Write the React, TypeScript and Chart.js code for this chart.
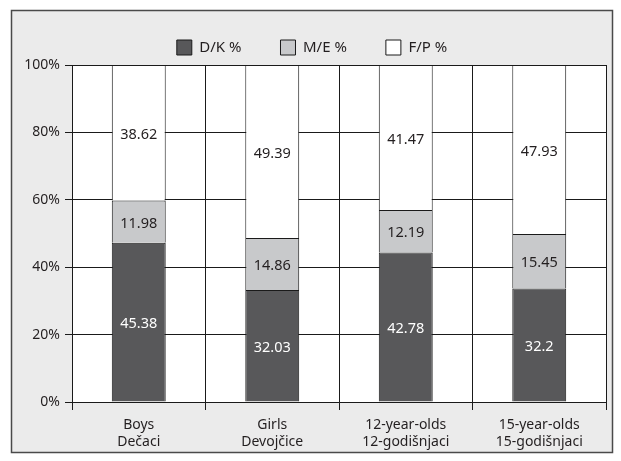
import React, { useEffect, useRef } from "react";
import { Chart, registerables } from "chart.js";

Chart.register(...registerables);

const categories: string[][] = [
  ["Boys", "Dečaci"],
  ["Girls", "Devojčice"],
  ["12-year-olds", "12-godišnjaci"],
  ["15-year-olds", "15-godišnjaci"],
];
const seriesNames = ["D/K %", "M/E %", "F/P %"];
const dkValues = [45.38, 32.03, 42.78, 32.2];
const meValues = [11.98, 14.86, 12.19, 15.45];
const fpValues = [38.62, 49.39, 41.47, 47.93];
const yTicks = [0, 20, 40, 60, 80, 100];

const TEXT = "#231f20";
const FONT = "'Noto Sans', sans-serif";

export default function App() {
  const ref = useRef<HTMLCanvasElement | null>(null);

  useEffect(() => {
    document.body.style.margin = "0";
    const canvas = ref.current;
    if (!canvas) return;

    const raw = [dkValues, meValues, fpValues];
    const totals = dkValues.map((_, i) => dkValues[i] + meValues[i] + fpValues[i]);
    const norm = raw.map((arr) => arr.map((v, i) => (v / totals[i]) * 100));
    const colors = ["#58585a", "#c8c9cb", "#ffffff"];
    const labelColors = ["#ffffff", TEXT, TEXT];

    const bgPlugin = {
      id: "bg",
      beforeDraw(chart: any) {
        const { ctx, chartArea } = chart;
        ctx.save();
        ctx.fillStyle = "#ffffff";
        ctx.fillRect(0, 0, chart.width, chart.height);
        ctx.fillStyle = "#ebebeb";
        ctx.fillRect(11, 10, 602, 443);
        ctx.strokeStyle = "#4a4a4a";
        ctx.lineWidth = 1.5;
        ctx.strokeRect(11.5, 10.5, 601, 442);
        ctx.fillStyle = "#ffffff";
        ctx.fillRect(chartArea.left, chartArea.top, chartArea.right - chartArea.left, chartArea.bottom - chartArea.top);
        ctx.restore();
      },
    };

    const labelPlugin = {
      id: "segLabels",
      afterDatasetsDraw(chart: any) {
        const { ctx } = chart;
        ctx.save();
        ctx.font = `14.5px ${FONT}`;
        ctx.textAlign = "center";
        ctx.textBaseline = "middle";
        raw.forEach((arr, di) => {
          const meta = chart.getDatasetMeta(di);
          meta.data.forEach((el: any, i: number) => {
            const p = el.getProps(["x", "y", "base"], true);
            ctx.fillStyle = labelColors[di];
            ctx.fillText(String(arr[i]), p.x, (p.y + p.base) / 2 + 2);
          });
        });
        ctx.restore();
      },
    };

    const chart = new Chart(canvas, {
      type: "bar",
      data: {
        labels: categories,
        datasets: seriesNames.map((name, di) => ({
          label: name,
          data: norm[di],
          backgroundColor: colors[di],
          borderColor: "#1a1a1a",
          borderWidth: 1,
          barPercentage: 0.404,
          categoryPercentage: 1,
        })),
      },
      options: {
        responsive: false,
        animation: false,
        devicePixelRatio: 1,
        layout: { padding: { top: 1, right: 15, left: 18, bottom: 0 } },
        plugins: {
          legend: {
            display: true,
            position: "top",
            labels: {
              boxWidth: 15,
              boxHeight: 15,
              padding: 39,
              color: TEXT,
              font: { family: FONT, size: 15 },
            },
          },
          tooltip: { enabled: false },
        },
        scales: {
          x: {
            stacked: true,
            grid: { color: "#1a1a1a", lineWidth: 1, offset: true, tickLength: 8, drawTicks: true },
            border: { color: "#1a1a1a" },
            ticks: { color: TEXT, font: { family: FONT, size: 14, lineHeight: 1.25 }, padding: 6, maxRotation: 0 },
            afterFit(scale: any) {
              scale.height = 59;
            },
          },
          y: {
            stacked: true,
            min: 0,
            max: 100,
            afterBuildTicks(scale: any) {
              scale.ticks = yTicks.map((v) => ({ value: v }));
            },
            grid: { color: "#1a1a1a", lineWidth: 1, tickLength: 7 },
            border: { color: "#1a1a1a" },
            ticks: {
              color: TEXT,
              font: { family: FONT, size: 14 },
              padding: 5,
              callback: (v: any) => `${v}%`,
            },
            afterFit(scale: any) {
              scale.width = 54;
            },
          },
        },
      },
      plugins: [bgPlugin, labelPlugin],
    } as any);

    return () => chart.destroy();
  }, []);

  return <canvas ref={ref} width={621} height={461} style={{ display: "block" }} />;
}
